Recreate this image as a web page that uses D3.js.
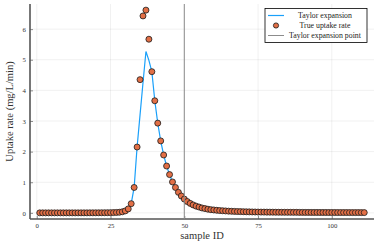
<!DOCTYPE html>
<html>
<head>
<meta charset="utf-8">
<script src="https://cdn.jsdelivr.net/npm/d3@7/dist/d3.min.js"></script>
<style>
  html, body { margin: 0; padding: 0; background: #fff; }
  svg { display: block; }
  text { font-family: "Liberation Serif", "Times New Roman", serif; }
</style>
</head>
<body>
<svg id="chart" width="379" height="249"></svg>
<script>
// ---- data ----
const trueRate = [
  0.000,0.000,0.000,0.000,0.000,0.000,0.000,0.000,0.000,0.000,
  0.000,0.000,0.000,0.000,0.001,0.001,0.001,0.002,0.002,0.003,
  0.003,0.004,0.005,0.006,0.008,0.010,0.014,0.020,0.035,0.065,
  0.13,0.30,0.83,2.15,4.35,6.43,6.62,5.67,4.61,3.66,
  2.93,2.35,1.89,1.53,1.25,1.01,0.83,0.67,0.55,0.45,
  0.37,0.31,0.26,0.22,0.19,0.16,0.14,0.12,0.105,0.095,
  0.085,0.076,0.069,0.063,0.057,0.052,0.048,0.044,0.041,0.038,
  0.035,0.033,0.031,0.029,0.027,0.026,0.025,0.024,0.023,0.022,
  0.021,0.020,0.019,0.019,0.018,0.018,0.017,0.017,0.016,0.016,
  0.015,0.015,0.014,0.014,0.014,0.013,0.013,0.013,0.012,0.012,
  0.012,0.011,0.011,0.011,0.011,0.010,0.010,0.010,0.010,0.009,0.009
];
const taylorRate = [
  0.000,0.000,0.000,0.000,0.000,0.000,0.000,0.000,0.000,0.000,
  0.000,0.000,0.000,0.000,0.001,0.001,0.001,0.002,0.002,0.003,
  0.003,0.004,0.005,0.006,0.008,0.010,0.014,0.020,0.035,0.065,
  0.13,0.30,0.83,2.15,3.20,4.25,5.27,4.98,4.61,3.66,
  2.93,2.35,1.89,1.53,1.25,1.01,0.83,0.67,0.55,0.45,
  0.37,0.31,0.26,0.22,0.19,0.16,0.14,0.12,0.105,0.095,
  0.085,0.076,0.069,0.063,0.057,0.052,0.048,0.044,0.041,0.038,
  0.035,0.033,0.031,0.029,0.027,0.026,0.025,0.024,0.023,0.022,
  0.021,0.020,0.019,0.019,0.018,0.018,0.017,0.017,0.016,0.016,
  0.015,0.015,0.014,0.014,0.014,0.013,0.013,0.013,0.012,0.012,
  0.012,0.011,0.011,0.011,0.011,0.010,0.010,0.010,0.010,0.009,0.009
];
const expansionPoint = [50];
const xTicks = [0, 25, 50, 75, 100];
const yTicks = [0, 1, 2, 3, 4, 5, 6];
const legendLabels = ["Taylor expansion", "True uptake rate", "Taylor expansion point"];
const xLabel = "sample ID";
const yLabel = "Uptake rate (mg/L/min)";

// ---- layout ----
const pL = 30, pR = 374, pT = 4, pB = 219;
const svg = d3.select("#chart");
const x = d3.scaleLinear().domain([-2.3, 114.3]).range([pL, pR]);
const y = d3.scaleLinear().domain([-0.2, 6.82]).range([pB, pT]);

const blue = "#1aa0fa", orange = "#E26F46", gray = "#8c8c8c";

// grid
const grid = svg.append("g");
grid.selectAll("line.gx").data(xTicks).join("line").attr("class", "gx")
  .attr("x1", d => x(d)).attr("x2", d => x(d)).attr("y1", pT).attr("y2", pB)
  .attr("stroke", "#000").attr("stroke-opacity", 0.1).attr("stroke-width", 0.6);
grid.selectAll("line.gy").data(yTicks).join("line").attr("class", "gy")
  .attr("y1", d => y(d)).attr("y2", d => y(d)).attr("x1", pL).attr("x2", pR)
  .attr("stroke", "#000").attr("stroke-opacity", 0.1).attr("stroke-width", 0.6);

// axes
const fmt = d3.format("d");
const xAxis = d3.axisBottom(x).tickValues(xTicks).tickFormat(fmt).tickSize(-3).tickPadding(4);
const yAxis = d3.axisLeft(y).tickValues(yTicks).tickFormat(fmt).tickSize(-3).tickPadding(4);
const gx = svg.append("g").attr("transform", `translate(0,${pB})`).call(xAxis);
const gy = svg.append("g").attr("transform", `translate(${pL},0)`).call(yAxis);
[gx, gy].forEach(g => {
  g.select(".domain").remove();
  g.selectAll(".tick line").attr("stroke", "#444").attr("stroke-width", 0.6);
  g.selectAll(".tick text").attr("font-family", "Liberation Serif, serif")
    .attr("font-size", 6.8).attr("fill", "#333");
});
// spines
svg.append("line").attr("x1", pL).attr("x2", pL).attr("y1", pT).attr("y2", pB)
  .attr("stroke", "#555").attr("stroke-width", 1.6);
svg.append("line").attr("x1", pL).attr("x2", pR).attr("y1", pB).attr("y2", pB)
  .attr("stroke", "#555").attr("stroke-width", 1.6);

// Taylor line
const line = d3.line().x((d, i) => x(i + 1)).y(d => y(d));
svg.append("path").datum(taylorRate).attr("d", line)
  .attr("fill", "none").attr("stroke", blue).attr("stroke-width", 1.2);

// true rate points
svg.append("g").selectAll("circle").data(trueRate).join("circle")
  .attr("cx", (d, i) => x(i + 1)).attr("cy", d => y(d)).attr("r", 3)
  .attr("fill", orange).attr("stroke", "#1a1a1a").attr("stroke-width", 0.8);

// expansion point
svg.append("g").selectAll("line").data(expansionPoint).join("line")
  .attr("x1", d => x(d)).attr("x2", d => x(d)).attr("y1", pT).attr("y2", pB)
  .attr("stroke", gray).attr("stroke-width", 1);

// axis labels
svg.append("text").attr("x", (pL + pR) / 2).attr("y", 239)
  .attr("text-anchor", "middle").attr("font-size", 10.5).attr("fill", "#333").text(xLabel);
svg.append("text").attr("transform", `translate(13,${(pT + pB) / 2}) rotate(-90)`)
  .attr("text-anchor", "middle").attr("font-size", 10.5).attr("fill", "#333").text(yLabel);

// legend
const lg = svg.append("g");
lg.append("rect").attr("x", 265).attr("y", 8.5).attr("width", 102).attr("height", 34)
  .attr("fill", "#fff").attr("stroke", "#000").attr("stroke-width", 0.8);
const rows = [15.5, 25.5, 35.5];
lg.append("line").attr("x1", 268).attr("x2", 284).attr("y1", rows[0]).attr("y2", rows[0])
  .attr("stroke", blue).attr("stroke-width", 1.2);
lg.append("circle").attr("cx", 276).attr("cy", rows[1]).attr("r", 2.6)
  .attr("fill", orange).attr("stroke", "#1a1a1a").attr("stroke-width", 0.8);
lg.append("line").attr("x1", 268).attr("x2", 284).attr("y1", rows[2]).attr("y2", rows[2])
  .attr("stroke", gray).attr("stroke-width", 1);
lg.selectAll("text").data(legendLabels).join("text")
  .attr("x", 325).attr("y", (d, i) => rows[i]).attr("dy", "0.33em")
  .attr("text-anchor", "middle").attr("font-size", 7.8).attr("fill", "#222").text(d => d);
</script>
</body>
</html>
